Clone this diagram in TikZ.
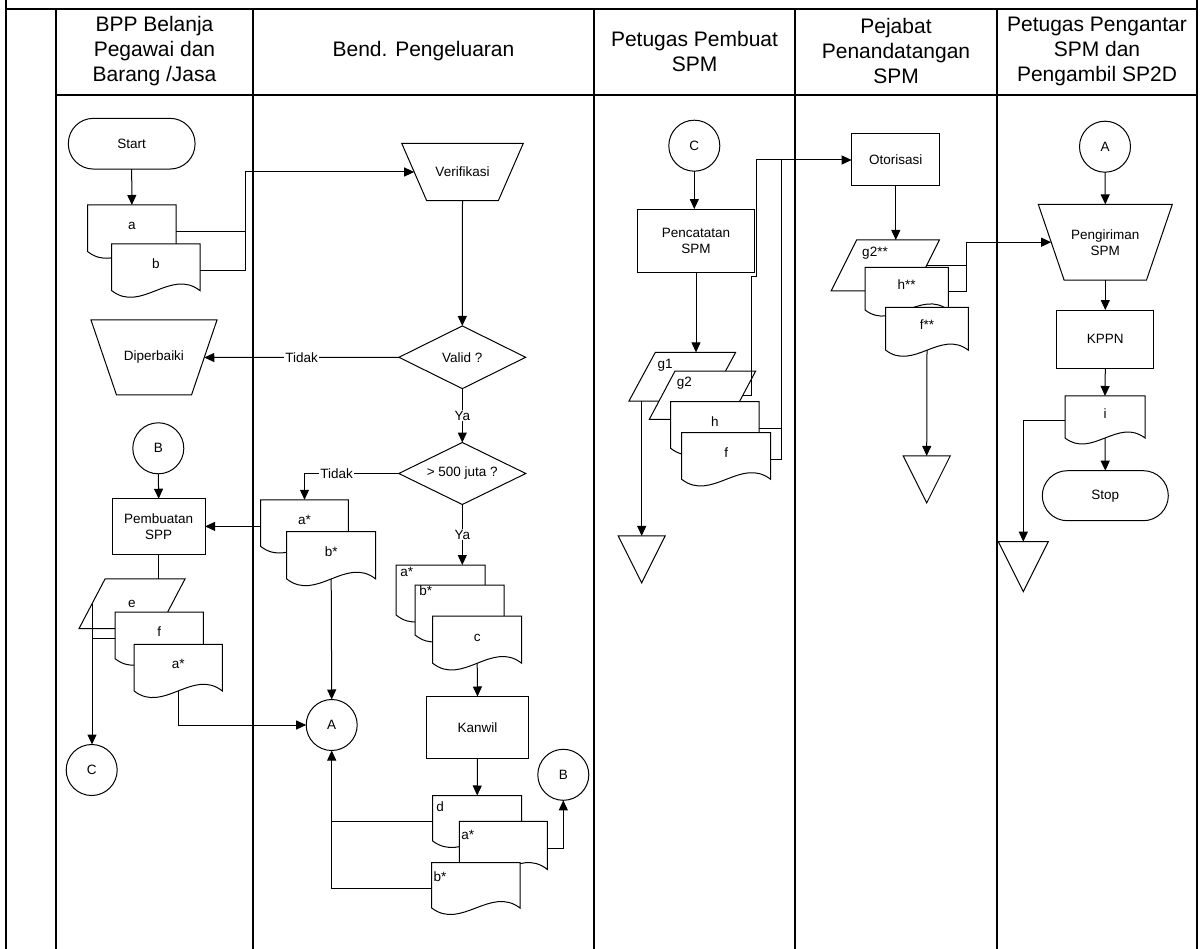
\documentclass[tikz,border=0pt]{standalone}
\usepackage{fontspec}
\setmainfont{Liberation Sans}
\usetikzlibrary{shapes.geometric,arrows.meta,calc}
\makeatletter
\newdimen\dcXa \newdimen\dcXb \newdimen\dcYa \newdimen\dcYb \newdimen\dcW \newdimen\dcK
\pgfdeclareshape{docu}{
  \inheritsavedanchors[from=rectangle]
  \inheritanchorborder[from=rectangle]
  \inheritanchor[from=rectangle]{center}
  \inheritanchor[from=rectangle]{north}
  \inheritanchor[from=rectangle]{south}
  \inheritanchor[from=rectangle]{east}
  \inheritanchor[from=rectangle]{west}
  \inheritanchor[from=rectangle]{north east}
  \inheritanchor[from=rectangle]{north west}
  \inheritanchor[from=rectangle]{south east}
  \inheritanchor[from=rectangle]{south west}
  \inheritanchor[from=rectangle]{text}
  \inheritanchor[from=rectangle]{mid}
  \inheritanchor[from=rectangle]{base}
  \anchor{wave}{%
    \southwest \pgf@xa=\pgf@x \pgf@ya=\pgf@y
    \northeast \pgf@xb=\pgf@x \pgf@yb=\pgf@y
    \pgf@x=0.5\pgf@xa \advance\pgf@x by 0.5\pgf@xb
    \pgf@y=0.875\pgf@ya \advance\pgf@y by 0.125\pgf@yb
  }
  \backgroundpath{%
    \southwest \dcXa=\pgf@x \dcYa=\pgf@y
    \northeast \dcXb=\pgf@x \dcYb=\pgf@y
    \dcW=\dcXb \advance\dcW by -\dcXa \dcW=0.3333\dcW
    \dcK=\dcYb \advance\dcK by -\dcYa
    \advance\dcYa by 0.125\dcK
    \dcK=0.4326\dcK
    \pgfpathmoveto{\pgfqpoint{\dcXa}{\dcYb}}
    \pgfpathlineto{\pgfqpoint{\dcXb}{\dcYb}}
    \pgfpathlineto{\pgfqpoint{\dcXb}{\dcYa}}
    \pgfpathcurveto{\pgfpointadd{\pgfqpoint{\dcXb}{\dcYa}}{\pgfqpoint{-\dcW}{\dcK}}}
      {\pgfpointadd{\pgfqpoint{\dcXa}{\dcYa}}{\pgfqpoint{\dcW}{-\dcK}}}
      {\pgfqpoint{\dcXa}{\dcYa}}
    \pgfpathclose
  }
}
\pgfkeys{/pgf/trap inset/.initial=25pt}
\pgfdeclareshape{trap}{
  \inheritsavedanchors[from=rectangle]
  \inheritanchorborder[from=rectangle]
  \savedanchor\trapins{\pgfmathsetlength\pgf@x{\pgfkeysvalueof{/pgf/trap inset}}\pgf@y=0pt}
  \inheritanchor[from=rectangle]{center}
  \inheritanchor[from=rectangle]{north}
  \inheritanchor[from=rectangle]{south}
  \inheritanchor[from=rectangle]{north east}
  \inheritanchor[from=rectangle]{north west}
  \inheritanchor[from=rectangle]{text}
  \inheritanchor[from=rectangle]{mid}
  \inheritanchor[from=rectangle]{base}
  \anchor{west}{%
    \trapins \pgf@xc=0.5\pgf@x
    \southwest \pgf@xa=\pgf@x \pgf@ya=\pgf@y
    \northeast \pgf@yb=\pgf@y
    \pgf@x=\pgf@xa \advance\pgf@x by \pgf@xc
    \pgf@y=0.5\pgf@ya \advance\pgf@y by 0.5\pgf@yb
  }
  \anchor{east}{%
    \trapins \pgf@xc=0.5\pgf@x
    \southwest \pgf@ya=\pgf@y
    \northeast \pgf@xb=\pgf@x \pgf@yb=\pgf@y
    \pgf@x=\pgf@xb \advance\pgf@x by -\pgf@xc
    \pgf@y=0.5\pgf@ya \advance\pgf@y by 0.5\pgf@yb
  }
  \backgroundpath{%
    \trapins \dcW=\pgf@x
    \southwest \dcXa=\pgf@x \dcYa=\pgf@y
    \northeast \dcXb=\pgf@x \dcYb=\pgf@y
    \pgfpathmoveto{\pgfqpoint{\dcXa}{\dcYb}}
    \pgfpathlineto{\pgfqpoint{\dcXb}{\dcYb}}
    \advance\dcXb by -\dcW \advance\dcXa by \dcW
    \pgfpathlineto{\pgfqpoint{\dcXb}{\dcYa}}
    \pgfpathlineto{\pgfqpoint{\dcXa}{\dcYa}}
    \pgfpathclose
  }
}
\makeatother
\begin{document}
\begin{tikzpicture}[x=1pt,y=-1pt,
  every node/.style={font=\fontsize{13.5}{16}\selectfont, inner sep=1pt, outer sep=0pt},
  hdr/.style={font=\fontsize{21}{25}\selectfont, align=center},
  shp/.style={draw, line width=1pt, fill=white},
  proc/.style={shp, rectangle, align=center},
  term/.style={shp, rectangle, rounded corners=25pt},
  conn/.style={shp, circle, minimum size=51pt, inner sep=0pt},
  dec/.style={shp, diamond, inner sep=0pt, aspect=2},
  manop/.style={shp, trap, align=center, inner sep=1pt},
  para/.style={shp, trapezium, trapezium stretches=true, inner sep=2pt},
  store/.style={shp, isosceles triangle, isosceles triangle stretches, shape border rotate=-90, inner sep=2pt, minimum width=47pt, minimum height=47pt},
  docn/.style={shp, docu, inner sep=0pt, text height=9pt, text depth=13pt},
  line/.style={line width=1pt},
  arr/.style={line, -{Triangle[length=10pt,width=9pt]}},
  lane/.style={line width=2pt},
  lbl/.style={fill=white, inner sep=1pt}
]
\useasboundingbox (0,0) rectangle (1202,949);
% frame and swimlanes
\draw[lane] (6,0) -- (6,949);
\draw[lane] (1197,0) -- (1197,949);
\draw[lane] (6,9) -- (1197,9);
\draw[lane] (56,95) -- (1197,95);
\foreach \x in {56,253,594,795,997} \draw[lane] (\x,9) -- (\x,949);
% headers
\node[hdr] (h1) at (154.5,51) {BPP Belanja\\Pegawai dan\\Barang /Jasa};
\node[hdr] (h2) at (423.5,51) {Bend. Pengeluaran};
\node[hdr] (h3) at (694.5,51) {Petugas Pembuat\\SPM};
\node[hdr] (h4) at (896,51) {Pejabat\\Penandatangan\\SPM};
\node[hdr] (h5) at (1097,51) {Petugas Pengantar\\SPM dan\\Pengambil SP2D};

% ---- lane 1
\node[term, minimum width=126.7pt, minimum height=50.7pt] (start) at (131.7,143.7) {Start};
\node[docn, minimum width=88.3pt, minimum height=53.3pt] (a) at (131.85,231.65) {a};
\node[docn, minimum width=88.3pt, minimum height=53.3pt] (b) at (155.85,270.65) {b};
\node[manop, trap inset=25.5pt, minimum width=126pt, minimum height=75pt] (dip) at (154,357.5) {Diperbaiki};
\node[conn] (B1) at (158.3,448.3) {B};
\node[proc, minimum width=92.7pt, minimum height=55.3pt] (spp) at (158.7,526.4) {Pembuatan\\SPP};
\node[para, trapezium left angle=64, trapezium right angle=116, minimum width=106pt, minimum height=49.7pt] (e) at (132,603.8) {e};
\node[docn, minimum width=88.3pt, minimum height=53.3pt] (f1) at (159.15,638.65) {f};
\node[docn, minimum width=88.3pt, minimum height=53.3pt] (as1) at (178.15,670.95) {a*};
\node[conn] (C1) at (91.7,770) {C};

% ---- lane 2
\node[manop, trap inset=25pt, minimum width=121.6pt, minimum height=57.4pt] (verif) at (462.5,172) {Verifikasi};
\node[dec, minimum width=126.7pt, minimum height=62.7pt] (valid) at (462.3,357.3) {Valid ?};
\node[dec, minimum width=127pt, minimum height=62pt] (gt) at (462.3,473.5) {> 500 juta ?};
\node[docn, minimum width=87.6pt, minimum height=53.3pt] (as2) at (304.5,526.4) {a*};
\node[docn, minimum width=89pt, minimum height=54pt] (bs2) at (331.2,558.7) {b*};
\node[conn] (A1) at (331.7,725) {A};
\node[docn, minimum width=89pt, minimum height=57pt] (as3) at (440.5,593.5) {};
\node (as3t) at (406.7,571.7) {a*};
\node[docn, minimum width=89pt, minimum height=57pt] (bs3) at (459.5,613.5) {};
\node (bs3t) at (425.7,590.7) {b*};
\node[docn, minimum width=89pt, minimum height=54pt] (c) at (477.2,643) {c};
\node[proc, minimum width=101.7pt, minimum height=62pt] (kanwil) at (477.5,727.5) {Kanwil};
\node[docn, minimum width=89pt, minimum height=52pt] (d) at (477.2,821.5) {};
\node (dt) at (440,806.5) {d};
\node[docn, minimum width=88pt, minimum height=55pt] (as4) at (503.3,848.8) {};
\node (as4t) at (467.7,835) {a*};
\node[docn, minimum width=88.3pt, minimum height=52pt] (bs4) at (475.85,888.5) {};
\node (bs4t) at (440,876.3) {b*};
\node[conn] (B2) at (563.3,774.8) {B};

% ---- lane 3
\node[conn] (C2) at (694.3,145.7) {C};
\node[proc, minimum width=116.7pt, minimum height=63.3pt] (pcat) at (696,240.7) {Pencatatan\\SPM};
\node[para, trapezium left angle=64, trapezium right angle=116, minimum width=106.7pt, minimum height=48.7pt] (g1) at (682.3,376.7) {};
\node (g1t) at (665,365) {g1};
\node[para, trapezium left angle=65, trapezium right angle=115, minimum width=106.4pt, minimum height=48.3pt] (g2) at (702.5,395.2) {};
\node (g2t) at (684.3,383.3) {g2};
\node[docn, minimum width=88.3pt, minimum height=53.3pt] (h3) at (714.85,428.35) {h};
\node[docn, minimum width=89pt, minimum height=53.3pt] (f3) at (726.2,459.35) {f};
\node[store] (t1) at (641.7,550) {};

% ---- lane 4
\node[proc, minimum width=88.3pt, minimum height=52pt] (otor) at (895.8,160) {Otorisasi};
\node[para, trapezium left angle=66, trapezium right angle=114, minimum width=108.3pt, minimum height=51pt] (g2s) at (885.2,265.5) {};
\node (g2st) at (875,253.3) {g2**};
\node[docn, minimum width=83.3pt, minimum height=48.8pt] (hs) at (906.65,291.7) {h**};
\node[docn, minimum width=82.6pt, minimum height=49pt] (fs) at (927,331.8) {f**};
\node[store] (t2) at (926.7,470) {};

% ---- lane 5
\node[conn] (A2) at (1105,146.7) {A};
\node[manop, trap inset=25.8pt, minimum width=134pt, minimum height=75.7pt] (kirim) at (1105.3,242.2) {Pengiriman\\SPM};
\node[proc, minimum width=97.3pt, minimum height=58.3pt] (kppn) at (1105.3,339.2) {KPPN};
\node[docn, minimum width=80pt, minimum height=48pt] (i) at (1105,420) {i};
\node[term, minimum width=126pt, minimum height=50pt] (stop) at (1105.3,495.7) {Stop};
\node[store, minimum width=50pt, minimum height=50pt] (t3) at (1023.3,556.7) {};

% ---- connectors
\coordinate (jab) at (245,0);
\draw[arr] (start.south) -- (a.north);
\draw[arr] (a.east) -- (a.east -| jab) |- (verif.west);
\draw[line] (b.east) -| (a.east -| jab);
\draw[arr] (verif.south) -- (valid.north);
\draw[arr] (valid.west) -- node[lbl]{Tidak} (dip.east);
\draw[arr] (valid.south) -- node[lbl]{Ya} (gt.north);
\draw[arr] (gt.west) -| node[lbl, pos=0.33]{Tidak} (as2.north);
\draw[arr] (as2.west) -- (spp.east);
\draw[arr] (gt.south) -- node[lbl]{Ya} (gt.south |- as3.north);
\draw[arr] (B1.south) -- (spp.north);
\draw[line] (spp.south) -- (spp.south |- e.north);
\draw[arr] (e.west) -- (e.west |- C1.north);
\draw[line] (f1.west) -- (f1.west -| e.west);
\draw[arr] (as1.wave) |- (A1.west);
\draw[arr] (bs2.wave) -- (A1.north);
\draw[arr] (c.wave) -- (kanwil.north);
\draw[arr] (kanwil.south) -- (d.north);
\draw[arr] (d.west) -| (A1.south);
\draw[line] (bs4.west) -| (d.west -| A1.south);
\draw[arr] (as4.east) -| (B2.south);

\draw[arr] (C2.south) -- (C2.south |- pcat.north);
\draw[arr] (pcat.south) -- (pcat.south |- g1.north);
\draw[arr] (g1.south -| t1.north) -- (t1.north);
\coordinate (jh) at (781.7,0);
\coordinate (jg1) at (751.7,276.7);
\coordinate (jg2) at (756.7,276.7);
\draw[arr] (h3.east) -- (h3.east -| jh) |- (otor.west);
\draw[line] (f3.east) -| (h3.east -| jh);
\draw[line] (g2.east) -- (g2.east -| jg1) -- (jg1) -- (jg2) |- (otor.west -| jh);

\draw[arr] (otor.south) -- (otor.south |- g2s.north);
\coordinate (jk) at (966.7,0);
\draw[arr] (g2s.east) -- (g2s.east -| jk) |- (kirim.west);
\draw[line] (hs.east) -| (g2s.east -| jk);
\draw[arr] (fs.wave) -- (t2.north);

\draw[arr] (A2.south) -- (kirim.north);
\draw[arr] (kirim.south) -- (kppn.north);
\draw[arr] (kppn.south) -- (i.north);
\draw[arr] (i.wave) -- (stop.north);
\draw[arr] (i.west) -| (t3.north);
\end{tikzpicture}
\end{document}
